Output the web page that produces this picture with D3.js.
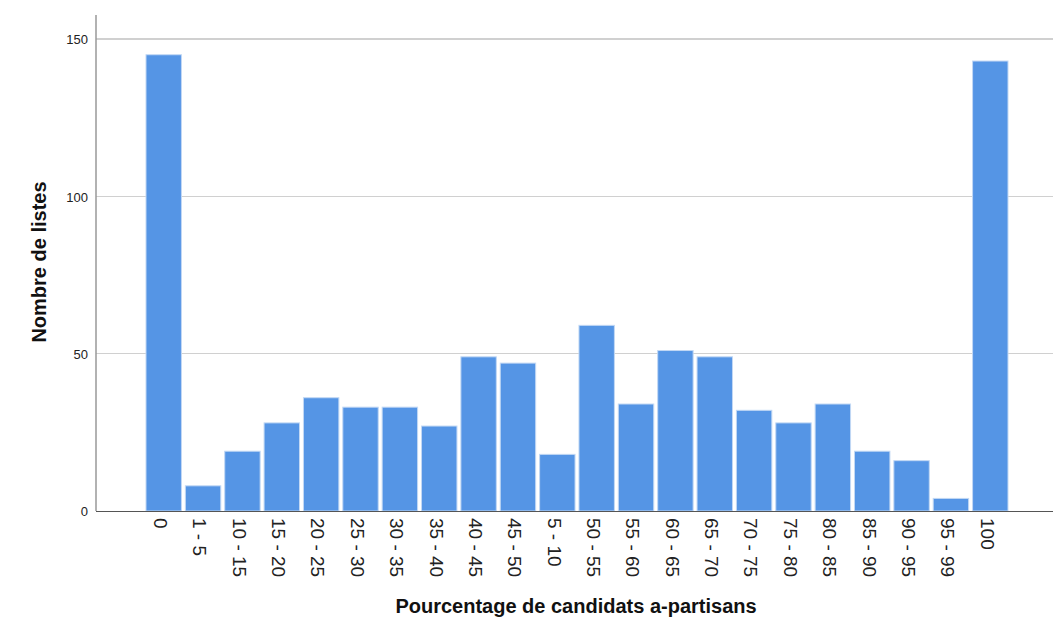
<!DOCTYPE html>
<html>
<head>
<meta charset="utf-8">
<title>Nombre de listes</title>
<style>
body { margin: 0; background: #fff; font-family: Arial, "Liberation Sans", sans-serif; }
.grid line { stroke: #d0d0d0; stroke-width: 1.5; shape-rendering: crispEdges; }
.bar { fill: #5595e5; stroke: #c2d8f4; stroke-width: 1; }
.ytick { font-size: 13px; fill: #222; }
.xtick { font-size: 19px; fill: #222; }
.title { font-size: 20px; font-weight: bold; fill: #111; }
</style>
</head>
<body>
<div id="vis"></div>
<script src="https://d3js.org/d3.v7.min.js"></script>
<script>
// categories as they appear (alphabetical sort of the original)
var categories = ["0", "1 - 5", "10 - 15", "15 - 20", "20 - 25", "25 - 30", "30 - 35", "35 - 40",
  "40 - 45", "45 - 50", "5 - 10", "50 - 55", "55 - 60", "60 - 65", "65 - 70", "70 - 75",
  "75 - 80", "80 - 85", "85 - 90", "90 - 95", "95 - 99", "100"];
var counts = [145, 8, 19, 28, 36, 33, 33, 27, 49, 47, 18, 59, 34, 51, 49, 32, 28, 34, 19, 16, 4, 143];
var yTicks = [0, 50, 100, 150];

var W = 1053, H = 626;
var plotLeft = 96, plotRight = 1053, plotTop = 15, plotBottom = 511;

var svg = d3.select("#vis").append("svg")
    .attr("width", W)
    .attr("height", H);

var x = d3.scaleBand()
    .domain(categories)
    .range([146, 1008])
    .paddingInner(0.1)
    .paddingOuter(0);

var y = d3.scaleLinear()
    .domain([0, 150])
    .range([plotBottom, 39]);

// gridlines
svg.append("g")
    .attr("class", "grid")
  .selectAll("line")
    .data(yTicks.filter(function(d) { return d > 0; }))
  .enter().append("line")
    .attr("x1", plotLeft)
    .attr("x2", plotRight)
    .attr("y1", function(d) { return y(d); })
    .attr("y2", function(d) { return y(d); });

// bars
svg.selectAll(".bar")
    .data(counts)
  .enter().append("rect")
    .attr("class", "bar")
    .attr("x", function(d, i) { return x(categories[i]); })
    .attr("width", x.bandwidth())
    .attr("y", function(d) { return y(d); })
    .attr("height", function(d) { return y(0) - y(d); });

// axis lines
svg.append("line")
    .attr("x1", plotLeft).attr("x2", plotLeft)
    .attr("y1", plotTop).attr("y2", plotBottom)
    .attr("stroke", "#999").attr("stroke-width", 1.5);

svg.append("line")
    .attr("x1", plotLeft).attr("x2", plotRight)
    .attr("y1", plotBottom + 0.5).attr("y2", plotBottom + 0.5)
    .attr("stroke", "#555").attr("stroke-width", 1);

// y tick labels
svg.selectAll(".ytick")
    .data(yTicks)
  .enter().append("text")
    .attr("class", "ytick")
    .attr("x", 88)
    .attr("y", function(d) { return y(d); })
    .attr("dy", "0.4em")
    .attr("text-anchor", "end")
    .text(function(d) { return d; });

// x tick labels, rotated
svg.selectAll(".xtick")
    .data(categories)
  .enter().append("text")
    .attr("class", "xtick")
    .attr("transform", function(d) {
      return "translate(" + (x(d) + x.bandwidth() / 2 - 3) + ",518) rotate(90)";
    })
    .attr("dy", "0.35em")
    .attr("text-anchor", "start")
    .text(function(d) { return d; });

// titles
svg.append("text")
    .attr("class", "title")
    .attr("x", 576)
    .attr("y", 613)
    .attr("text-anchor", "middle")
    .text("Pourcentage de candidats a-partisans");

svg.append("text")
    .attr("class", "title")
    .attr("transform", "translate(46,262) rotate(-90)")
    .attr("text-anchor", "middle")
    .text("Nombre de listes");
</script>
</body>
</html>
